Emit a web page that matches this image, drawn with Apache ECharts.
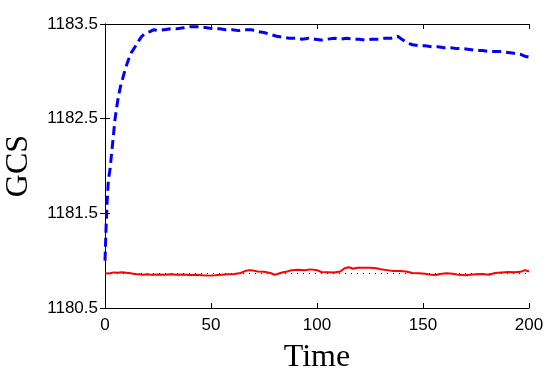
<!DOCTYPE html>
<html>
<head>
<meta charset="utf-8">
<script src="https://cdn.jsdelivr.net/npm/echarts@6/dist/echarts.min.js"></script>
<style>html,body{margin:0;padding:0;background:#fff}#c{width:554px;height:370px}</style>
</head>
<body>
<div id="c"></div>
<script>
const xTicks = [0, 50, 100, 150, 200];
const yTicks = [1180.5, 1181.5, 1182.5, 1183.5];

const blueT = [0,0.5,1,1.6,2.4,3.1,4,4.7,5.5,6.3,7.2,8.3,9.5,11,12.5,14.2,15.8,17.3,19,21.2,23,25,28,31,34,37,40,42,45,48,51,54,57,60,63,66,69,72,75,78,81,84,87,90,93,96,99,102,105,108,111,114,117,120,123,126,129,132,135,138,140,142,145,148,151,154,157,160,163,166,169,172,175,178,181,184,187,190,193,196,198,200];
const blueV = [1181.0,1181.35,1181.62,1181.85,1181.97,1182.13,1182.33,1182.49,1182.62,1182.73,1182.83,1182.92,1183.02,1183.12,1183.2,1183.26,1183.32,1183.37,1183.4,1183.42,1183.44,1183.43,1183.44,1183.45,1183.45,1183.46,1183.47,1183.47,1183.47,1183.46,1183.45,1183.45,1183.44,1183.44,1183.43,1183.44,1183.44,1183.42,1183.41,1183.39,1183.37,1183.36,1183.35,1183.35,1183.34,1183.35,1183.34,1183.33,1183.34,1183.35,1183.34,1183.35,1183.34,1183.34,1183.33,1183.34,1183.34,1183.35,1183.35,1183.37,1183.34,1183.31,1183.28,1183.27,1183.27,1183.26,1183.26,1183.25,1183.25,1183.24,1183.24,1183.23,1183.22,1183.22,1183.21,1183.21,1183.21,1183.2,1183.19,1183.18,1183.16,1183.15];

const redT = [0,2,4,6,8,10,12,14,16,18,20,22,25,28,31,34,37,40,43,46,49,52,55,58,61,64,66,68,70,72,75,78,80,82,84,86,88,91,94,97,100,102,105,108,111,113,115,117,119,122,125,128,130,133,136,139,142,145,148,151,154,156,158,161,164,167,170,172,175,178,181,184,187,190,193,196,198,200];
const redV = [1180.866,1180.864,1180.876,1180.872,1180.878,1180.872,1180.866,1180.86,1180.856,1180.852,1180.856,1180.85,1180.855,1180.852,1180.856,1180.85,1180.854,1180.848,1180.852,1180.845,1180.842,1180.846,1180.852,1180.856,1180.858,1180.87,1180.89,1180.9,1180.895,1180.885,1180.882,1180.87,1180.85,1180.865,1180.878,1180.885,1180.9,1180.905,1180.9,1180.908,1180.9,1180.88,1180.878,1180.876,1180.885,1180.92,1180.93,1180.915,1180.925,1180.924,1180.926,1180.92,1180.91,1180.9,1180.89,1180.892,1180.886,1180.87,1180.866,1180.862,1180.85,1180.848,1180.86,1180.866,1180.862,1180.85,1180.846,1180.852,1180.856,1180.858,1180.852,1180.87,1180.876,1180.88,1180.878,1180.882,1180.9,1180.885];

const refT = [0, 200];
const refV = [1180.864, 1180.864];

const zip = (a, b) => a.map((v, i) => [v, b[i]]);
const axisCommon = {
  axisLine: { show: true, lineStyle: { color: '#000', width: 1 } },
  axisTick: { show: true, inside: true, length: 5, lineStyle: { color: '#000' } },
  splitLine: { show: false }
};
const labelStyle = { color: '#000', fontFamily: 'Liberation Sans, Arial, sans-serif', fontSize: 17 };

const chart = echarts.init(document.getElementById('c'), null, { renderer: 'canvas' });
chart.setOption({
  animation: false,
  backgroundColor: '#fff',
  grid: { left: 105, right: 25, top: 24, bottom: 62, containLabel: false, outerBoundsMode: 'none' },
  xAxis: [
    Object.assign({ type: 'value', min: xTicks[0], max: xTicks[xTicks.length - 1], interval: 50, position: 'bottom',
      axisLabel: Object.assign({ margin: 9 }, labelStyle),
      name: 'Time', nameLocation: 'middle', nameGap: 34,
      nameTextStyle: { fontFamily: 'Liberation Serif, Times New Roman, serif', fontSize: 32, color: '#000' } }, axisCommon),
    Object.assign({ type: 'value', min: 0, max: 200, interval: 50, position: 'top', axisLabel: { show: false } }, axisCommon)
  ],
  yAxis: [
    Object.assign({ type: 'value', min: yTicks[0], max: yTicks[yTicks.length - 1], interval: 1, position: 'left',
      axisLabel: Object.assign({ margin: 7, formatter: v => v.toFixed(1) }, labelStyle),
      name: 'GCS', nameLocation: 'middle', nameGap: 70, nameRotate: 90,
      nameTextStyle: { fontFamily: 'Liberation Serif, Times New Roman, serif', fontSize: 32, color: '#000' } }, axisCommon),
    Object.assign({ type: 'value', min: 1180.5, max: 1183.5, interval: 1, position: 'right', axisLabel: { show: false } }, axisCommon)
  ],
  series: [
    { type: 'line', data: zip(refT, refV), symbol: 'none', lineStyle: { color: '#000', width: 1, type: [1, 5] }, z: 1 },
    { type: 'line', data: zip(redT, redV), symbol: 'none', lineStyle: { color: '#ff0000', width: 2 }, z: 2 },
    { type: 'line', data: zip(blueT, blueV), symbol: 'none', lineStyle: { color: '#0000ff', width: 3, type: [9, 5] }, z: 3 }
  ]
});
</script>
</body>
</html>
